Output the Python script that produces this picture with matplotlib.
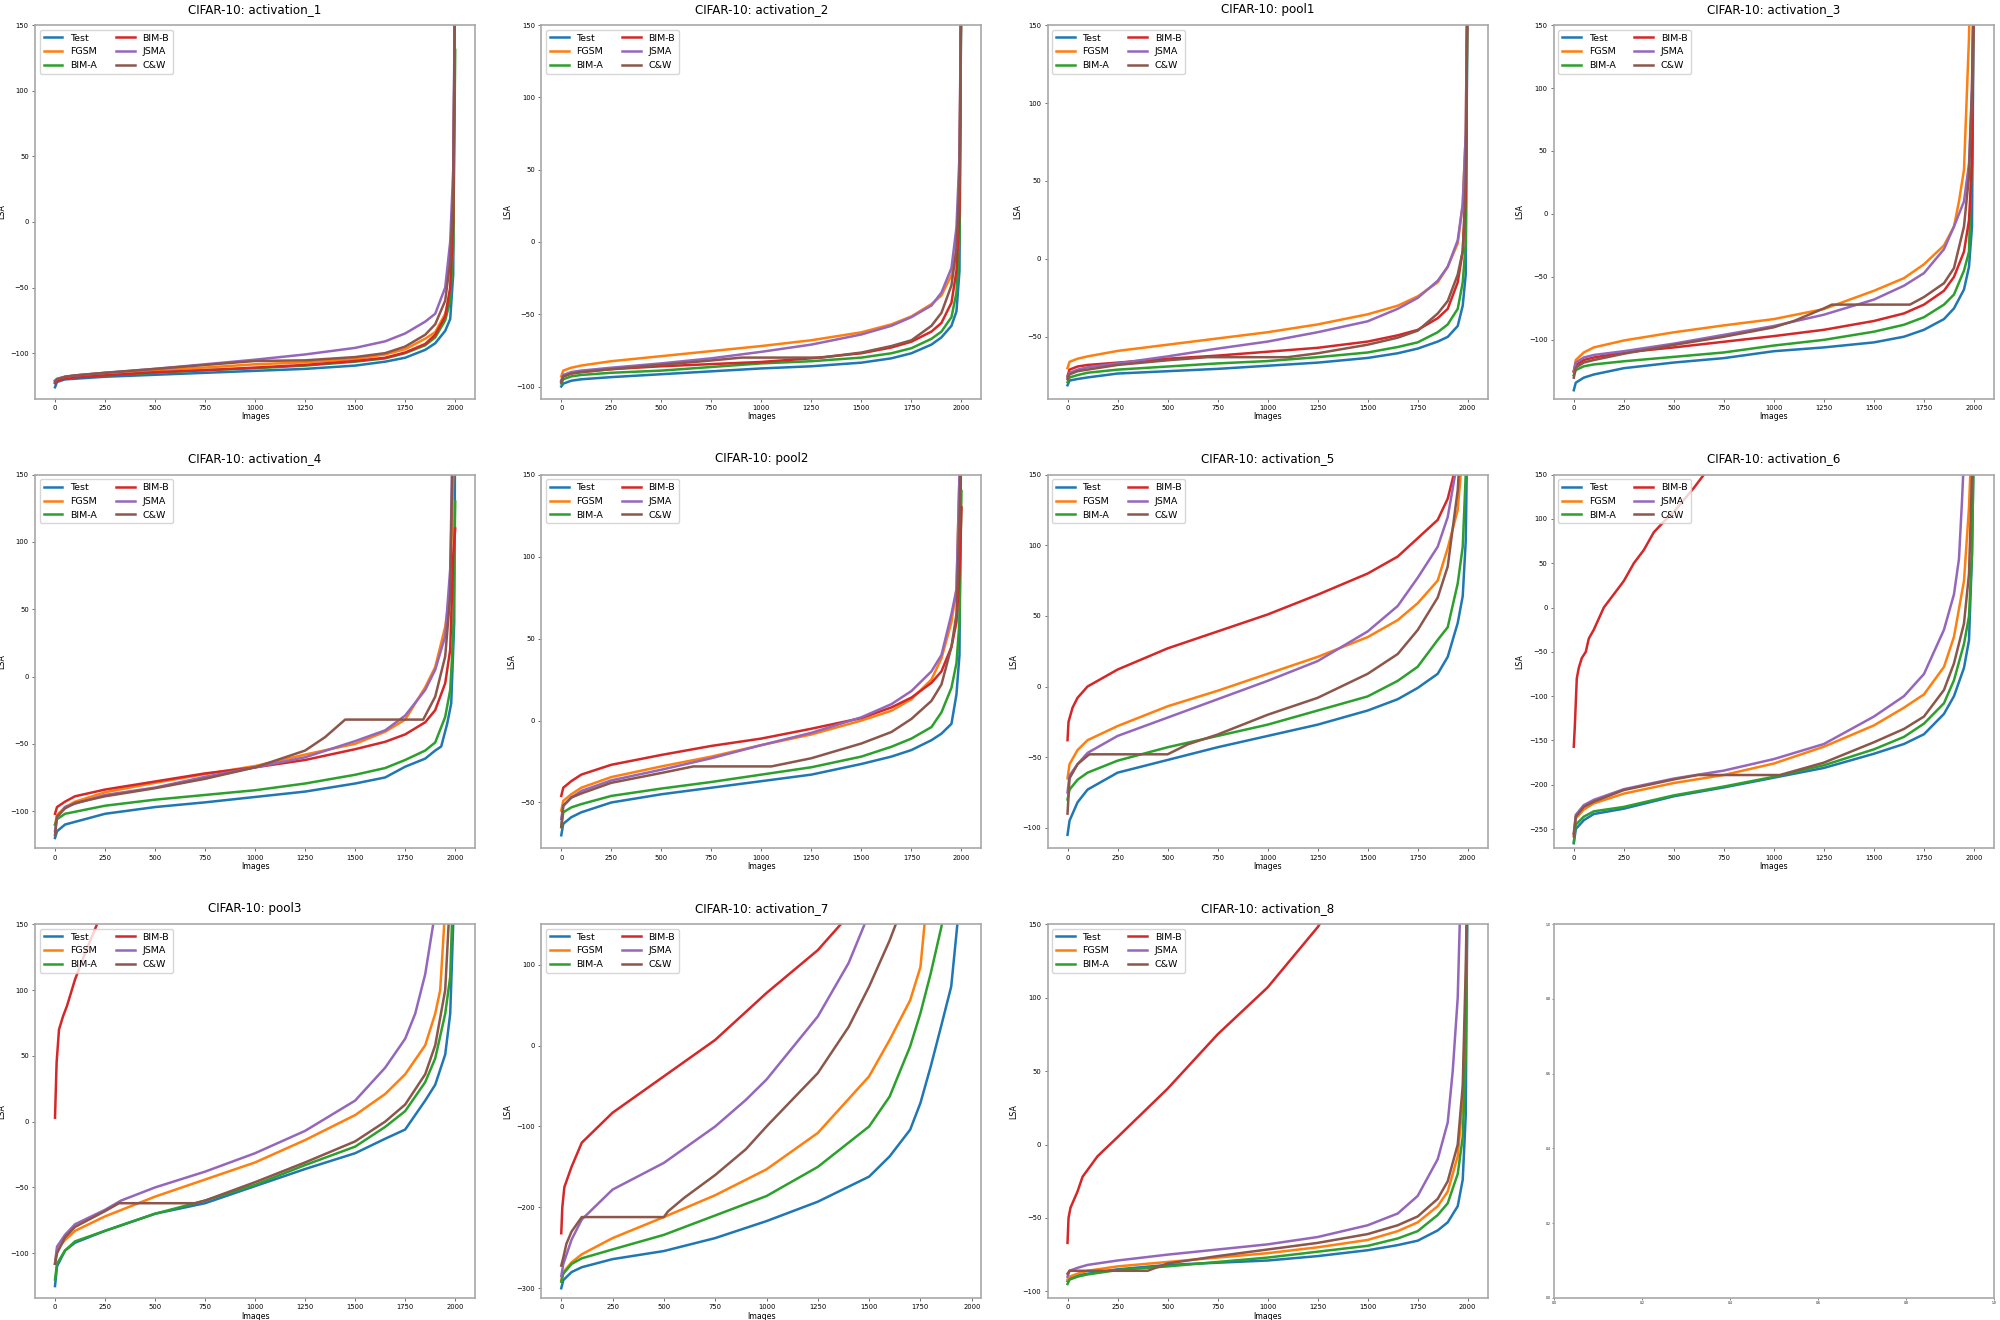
import matplotlib
matplotlib.use("Agg")
import matplotlib.pyplot as plt

# ---------------- data ----------------
SERIES = ["Test", "FGSM", "BIM-A", "BIM-B", "JSMA", "C&W"]
COLORS = ["#1f77b4", "#ff7f0e", "#2ca02c", "#d62728", "#9467bd", "#8c564b"]
TITLES = ["CIFAR-10: activation_1", "CIFAR-10: activation_2", "CIFAR-10: pool1",
          "CIFAR-10: activation_3", "CIFAR-10: activation_4", "CIFAR-10: pool2",
          "CIFAR-10: activation_5", "CIFAR-10: activation_6", "CIFAR-10: pool3",
          "CIFAR-10: activation_7", "CIFAR-10: activation_8"]
YMIN = [-134.8, -108.5, -89.7, -146.8, -127.7, -78.0, -114.6, -271.8, -134.0, -312.0, -104.5]
YMAX = 150
XTICKS = [0, 250, 500, 750, 1000, 1250, 1500, 1750, 2000]

GRID = [0, 10, 50, 100, 250, 500, 750, 1000, 1250, 1500, 1650, 1750, 1850, 1900, 1950, 1975, 1990, 2000]

# activation_1
A1_TEST = [-126, -122, -120, -119.5, -118, -116.5, -115, -113.5, -112, -109.5, -106.5, -103.5, -97.5, -92.5, -83, -74, -40, 200]
A1_FGSM = [-122, -120, -118, -117, -115, -113, -111, -108.5, -107, -104.5, -101, -97, -89, -84, -70, -55, -10, 200]
A1_BIMA = [-121, -120, -119, -118, -117, -115, -113, -111.5, -109.5, -106.5, -104, -100, -94, -88, -75, -60, -20, 131]
A1_BIMB = [-123, -121, -119.5, -118.5, -117, -114.5, -113, -111, -109, -106, -103.5, -99.5, -93, -86, -72, -50, 0, 200]
A1_JSMA = [-121, -119.5, -118, -117, -115, -112, -108.5, -105, -101, -96, -91, -85, -76, -70, -50, -15, 40, 200]
A1_CW = [-122, -120, -118, -117, -115, -112, -109, -106, -105.5, -103, -100, -95, -86, -78, -60, -30, 20, 200]

# activation_2
A2_TEST = [-100, -98, -96, -95, -93.5, -91.5, -89.5, -87.5, -86, -83.5, -80.5, -77, -71, -66, -58, -48, -20, 200]
A2_FGSM = [-93, -89, -87, -85.5, -82.5, -79, -75.5, -72, -68, -62.5, -57, -51.5, -43, -37, -23, -5, 50, 200]
A2_BIMA = [-98, -95, -93, -92, -90.5, -89, -86.5, -84, -82.5, -80, -77, -73.5, -67, -62, -52, -35, 0, 200]
A2_BIMB = [-96, -93, -91, -90, -88, -86, -84.5, -83, -80.5, -77, -73, -69, -62, -56, -42, -20, 20, 200]
A2_JSMA = [-96, -92, -90, -89, -87, -84, -80.5, -76, -71, -64, -58, -52, -44, -35, -18, 10, 60, 200]
A2_CW_X = [0, 10, 50, 100, 250, 500, 750, 900, 1300, 1500, 1650, 1750, 1850, 1900, 1950, 1975, 1990, 2000]
A2_CW = [-97, -93, -91, -90, -88, -85, -82, -80, -80, -76.5, -72, -68, -58, -49, -30, -5, 40, 200]

# pool1
P1_TEST = [-81, -78, -77, -76, -73.5, -72, -70.5, -68.5, -66.5, -63.5, -60.5, -57.5, -53, -50, -43, -30, -10, 200]
P1_FGSM = [-70, -66, -64, -62.5, -59, -55, -51, -47, -42, -35.5, -30, -24, -15, -5, 10, 35, 80, 200]
P1_BIMA = [-79, -76, -74.5, -73, -71, -69, -67, -65.5, -63, -60, -56.5, -53.5, -47, -42, -32, -15, 10, 200]
P1_BIMB = [-75, -71, -69, -68, -66.5, -64, -62, -59.5, -57, -53, -49, -45.5, -38, -32, -15, 5, 40, 200]
P1_JSMA = [-76, -73, -71, -69.5, -67, -62.5, -57.5, -53, -47, -40, -32, -25, -14, -5, 12, 35, 80, 200]
P1_CW_X = [0, 10, 50, 100, 250, 500, 700, 1100, 1250, 1500, 1650, 1750, 1850, 1900, 1950, 1975, 1990, 2000]
P1_CW = [-77, -74, -72, -71, -68, -65, -63, -63, -60.5, -55, -50.5, -46, -35, -27, -10, 5, 50, 200]

# activation_3
A3_TEST = [-140, -134, -130, -127.5, -122.5, -118, -114.5, -109, -106, -102, -97.5, -92, -83.5, -75, -60, -42, -10, 200]
A3_FGSM_X = [0, 10, 50, 100, 250, 500, 750, 1000, 1250, 1500, 1650, 1750, 1850, 1900, 1925, 1950, 1975, 1990]
A3_FGSM = [-125, -116, -110, -106, -100.5, -94, -88.5, -83.5, -75.5, -61, -51, -40, -25, -10, 10, 35, 140, 250]
A3_BIMA = [-128, -124, -121, -119.5, -117, -113.5, -110, -104.5, -100, -93.5, -88, -82, -72, -64, -45, -30, 50, 200]
A3_BIMB = [-125, -120, -116, -114, -110, -106, -101.5, -97, -92, -85, -79, -72, -61, -50, -30, -5, 40, 200]
A3_JSMA = [-125, -118, -114, -112, -109, -103, -96, -89, -80, -68, -57, -47, -28, -10, 10, 40, 100, 200]
A3_CW_X = [0, 10, 50, 100, 250, 500, 750, 1000, 1100, 1250, 1290, 1680, 1750, 1850, 1900, 1950, 1975, 1990, 2000]
A3_CW = [-130, -122, -118, -116, -111, -104, -97.5, -90, -85, -75, -72, -72, -66, -55, -43, -10, 30, 100, 200]

# activation_4
A4_TEST_X = [0, 10, 50, 100, 250, 500, 750, 1000, 1250, 1500, 1650, 1750, 1850, 1900, 1930, 1960, 1980, 1995, 2000]
A4_TEST = [-120, -115, -110, -108, -102, -97, -93.5, -89.5, -85.5, -79.5, -75, -67, -61, -55, -52, -35, -20, 40, 200]
A4_FGSM = [-110, -103, -97, -93, -86, -79, -72.5, -66.5, -58, -50, -41, -32, -8, 7, 37, 64, 150, 250]
A4_BIMA = [-110, -106, -102, -100.5, -96, -91.5, -88, -84.5, -79.5, -73, -68, -62, -55, -49, -30, -10, 30, 130]
A4_BIMB = [-102, -97, -93, -89, -84, -78, -72, -67.5, -62, -54, -48.5, -43, -34, -25, -5, 20, 90, 110]
A4_JSMA = [-115, -105, -97, -94.5, -88, -82.5, -74.5, -67.5, -60, -48, -40, -29, -10, 5, 30, 80, 200, 250]
A4_CW_X = [0, 10, 50, 100, 250, 500, 750, 1000, 1250, 1350, 1450, 1840, 1900, 1950, 1975, 1990, 2000]
A4_CW = [-118, -104, -98, -94, -89, -83, -76, -67.5, -55, -45, -32, -32, -15, 15, 60, 200, 250]

# pool2
P2_TEST = [-70, -63, -59, -56, -50, -45, -41, -37, -33, -26.5, -22, -18, -12, -8, -2, 16, 40, 200]
P2_FGSM = [-55, -49, -45, -41, -34.5, -28, -22, -15, -8.5, 0, 6, 13, 25, 38, 60, 80, 150, 200]
P2_BIMA = [-65, -56, -53, -51, -46, -41.5, -37.5, -33, -28.5, -22, -16, -11, -4, 5, 20, 35, 60, 140]
P2_BIMB = [-46, -41, -37, -33, -27, -21, -15.5, -11, -5, 1.5, 8, 14, 23, 30, 45, 60, 90, 130]
P2_JSMA = [-60, -52, -47, -43, -36.5, -30, -23, -15, -7.5, 2, 10, 18, 30, 40, 65, 80, 150, 200]
P2_CW_X = [0, 10, 50, 100, 250, 500, 660, 1050, 1250, 1500, 1650, 1750, 1850, 1900, 1950, 1975, 1990, 2000]
P2_CW = [-65, -52, -47, -44.5, -38, -32, -28, -28, -23, -14, -7, 1, 12, 22, 45, 65, 120, 200]

# activation_5
A5_TEST = [-105, -95, -82, -73, -61, -52, -43, -35, -27, -17, -9, -1, 9, 21, 45, 64, 103, 200]
A5_BIMA = [-80, -73, -66, -61, -52.5, -43, -35, -27, -17, -7, 4, 14, 33, 42, 73, 99, 150, 200]
A5_BIMB_X = [0, 5, 25, 50, 100, 250, 500, 750, 1000, 1250, 1500, 1650, 1750, 1850, 1900, 1930, 1950]
A5_BIMB = [-38, -25, -15, -8, 0, 12, 27, 39, 51, 65, 80, 92, 105, 118, 133, 150, 180]
A5_FGSM_X = [0, 10, 50, 100, 250, 500, 750, 1000, 1250, 1500, 1650, 1750, 1850, 1900, 1950, 1965, 1990]
A5_FGSM = [-65, -55, -45, -38, -28, -14, -3, 9, 21, 35, 47, 59, 75, 98, 125, 150, 250]
A5_JSMA_X = [0, 10, 50, 100, 250, 500, 750, 1000, 1250, 1500, 1650, 1750, 1850, 1900, 1937, 1970]
A5_JSMA = [-75, -63, -55, -47, -35, -22, -9, 4, 18, 39, 57, 77, 99, 120, 150, 250]
A5_CW_X = [0, 10, 50, 100, 110, 500, 600, 750, 1000, 1250, 1500, 1650, 1750, 1850, 1900, 1950, 1975]
A5_CW = [-90, -65, -55, -49, -48, -48, -41, -34, -20, -8, 9, 23, 40, 63, 85, 139, 200]

# activation_6
A6_TEST = [-266, -250, -240, -233, -227, -213, -203, -192, -181, -165, -154, -143, -120, -100, -68, -37, 60, 200]
A6_FGSM = [-255, -238, -228, -221, -210, -198, -189, -176, -157, -133, -113, -98, -67, -33, 30, 113, 200, 250]
A6_BIMA = [-265, -245, -236, -230, -225, -212, -202, -191, -178, -160, -146, -131, -108, -82, -41, -10, 60, 200]
A6_BIMB_X = [0, 5, 15, 25, 40, 60, 75, 100, 150, 200, 250, 300, 350, 400, 450, 500, 600, 650, 700]
A6_BIMB = [-157, -135, -80, -68, -57, -50, -35, -25, 0, 15, 30, 50, 65, 85, 97, 108, 135, 150, 165]
A6_JSMA_X = [0, 10, 50, 100, 250, 500, 750, 1000, 1250, 1500, 1650, 1750, 1850, 1900, 1925, 1940, 1950]
A6_JSMA = [-255, -234, -223, -217, -205, -193, -184, -171, -154, -123, -100, -75, -25, 15, 55, 120, 170]
A6_CW_X = [0, 10, 50, 100, 250, 500, 620, 1030, 1250, 1500, 1650, 1750, 1850, 1900, 1950, 1975, 1990, 2000]
A6_CW = [-258, -236, -225, -219, -206, -194, -189, -189, -175, -152, -137, -123, -93, -63, -18, 38, 150, 200]

# pool3
P3_TEST = [-125, -110, -98, -92, -83, -70, -62, -49, -36, -24, -13, -6, 16, 28, 51, 82, 150, 200]
P3_FGSM_X = [0, 10, 50, 100, 250, 500, 750, 1000, 1250, 1500, 1650, 1750, 1850, 1900, 1925, 1945, 1960]
P3_FGSM = [-108, -97, -90, -83, -72, -57, -44, -31, -14, 5, 21, 36, 58, 82, 100, 150, 200]
P3_BIMA = [-120, -108, -98, -91, -83, -70, -60, -48, -33, -19, -4, 8, 30, 48, 82, 110, 180, 250]
P3_BIMB_X = [0, 8, 20, 40, 60, 100, 150, 210, 250]
P3_BIMB = [3, 45, 70, 80, 88, 108, 128, 150, 165]
P3_JSMA_X = [0, 10, 50, 100, 250, 330, 500, 750, 1000, 1250, 1500, 1650, 1750, 1800, 1850, 1890, 1920]
P3_JSMA = [-108, -95, -86, -78, -67, -60, -50, -38, -24, -7, 16, 41, 63, 82, 112, 150, 200]
P3_CW_X = [0, 10, 50, 100, 250, 320, 700, 750, 1000, 1250, 1500, 1650, 1750, 1850, 1900, 1950, 1967, 1985]
P3_CW = [-108, -100, -88, -80, -68, -62, -62, -60, -46, -31, -15, 0, 13, 36, 58, 100, 150, 200]

# activation_7
A7_TEST_X = [0, 10, 50, 100, 250, 500, 750, 1000, 1250, 1500, 1600, 1700, 1750, 1800, 1850, 1900, 1930, 1950]
A7_TEST = [-300, -290, -280, -274, -264, -254, -238, -217, -193, -162, -137, -104, -71, -26, 23, 73, 150, 200]
A7_FGSM_X = [0, 10, 50, 100, 250, 500, 750, 1000, 1250, 1500, 1600, 1700, 1750, 1770, 1800]
A7_FGSM = [-290, -280, -268, -258, -238, -212, -185, -153, -108, -38, 7, 56, 97, 150, 180]
A7_BIMA_X = [0, 10, 50, 100, 250, 500, 750, 1000, 1250, 1500, 1600, 1700, 1750, 1800, 1855, 1880]
A7_BIMA = [-292, -282, -270, -263, -252, -234, -210, -186, -150, -100, -63, -1, 40, 89, 150, 180]
A7_BIMB_X = [0, 5, 15, 50, 100, 250, 500, 750, 1000, 1250, 1362, 1400]
A7_BIMB = [-232, -200, -175, -150, -120, -83, -38, 7, 65, 118, 150, 160]
A7_JSMA_X = [0, 10, 50, 100, 250, 500, 750, 900, 1000, 1250, 1400, 1478, 1500]
A7_JSMA = [-285, -270, -240, -215, -178, -145, -100, -67, -42, 36, 102, 150, 160]
A7_CW_X = [0, 10, 25, 50, 100, 500, 520, 600, 750, 900, 1000, 1250, 1400, 1500, 1600, 1630, 1650]
A7_CW = [-272, -262, -245, -230, -212, -212, -205, -188, -160, -128, -100, -34, 23, 73, 130, 150, 165]

# activation_8
A8_TEST = [-93, -91, -89, -88, -85, -82, -80.5, -79, -76, -72, -68.5, -65.5, -58.5, -53, -42, -24, 20, 200]
A8_FGSM = [-92, -90, -88, -86, -83, -80, -77, -74, -70, -65, -59, -53, -42, -32, -8, 30, 100, 200]
A8_BIMA = [-95, -92, -90, -88.5, -85.5, -83, -80, -77, -73, -69, -64, -59, -48, -40, -20, 5, 60, 200]
A8_BIMB_X = [0, 5, 15, 50, 75, 150, 250, 500, 750, 1000, 1250, 1260]
A8_BIMB = [-67, -50, -43, -32, -22, -8, 5, 38, 75, 107, 148, 150]
A8_JSMA_X = [0, 10, 50, 100, 250, 500, 750, 1000, 1250, 1500, 1650, 1750, 1850, 1900, 1925, 1950, 1960, 1975]
A8_JSMA = [-90, -86, -84, -82, -79, -75, -71.5, -68, -63, -55, -47, -35, -10, 15, 50, 100, 150, 200]
A8_CW_X = [0, 10, 50, 400, 500, 750, 1000, 1250, 1500, 1650, 1750, 1850, 1900, 1950, 1975, 1990, 2000]
A8_CW = [-88, -86, -86, -86, -81, -76, -71.5, -67, -61, -55, -49, -37, -25, 0, 40, 120, 200]

# (x, y) per series, per panel, in SERIES order
PANELS = [
    [(GRID, A1_TEST), (GRID, A1_FGSM), (GRID, A1_BIMA), (GRID, A1_BIMB), (GRID, A1_JSMA), (GRID, A1_CW)],
    [(GRID, A2_TEST), (GRID, A2_FGSM), (GRID, A2_BIMA), (GRID, A2_BIMB), (GRID, A2_JSMA), (A2_CW_X, A2_CW)],
    [(GRID, P1_TEST), (GRID, P1_FGSM), (GRID, P1_BIMA), (GRID, P1_BIMB), (GRID, P1_JSMA), (P1_CW_X, P1_CW)],
    [(GRID, A3_TEST), (A3_FGSM_X, A3_FGSM), (GRID, A3_BIMA), (GRID, A3_BIMB), (GRID, A3_JSMA), (A3_CW_X, A3_CW)],
    [(A4_TEST_X, A4_TEST), (GRID, A4_FGSM), (GRID, A4_BIMA), (GRID, A4_BIMB), (GRID, A4_JSMA), (A4_CW_X, A4_CW)],
    [(GRID, P2_TEST), (GRID, P2_FGSM), (GRID, P2_BIMA), (GRID, P2_BIMB), (GRID, P2_JSMA), (P2_CW_X, P2_CW)],
    [(GRID, A5_TEST), (A5_FGSM_X, A5_FGSM), (GRID, A5_BIMA), (A5_BIMB_X, A5_BIMB), (A5_JSMA_X, A5_JSMA), (A5_CW_X, A5_CW)],
    [(GRID, A6_TEST), (GRID, A6_FGSM), (GRID, A6_BIMA), (A6_BIMB_X, A6_BIMB), (A6_JSMA_X, A6_JSMA), (A6_CW_X, A6_CW)],
    [(GRID, P3_TEST), (P3_FGSM_X, P3_FGSM), (GRID, P3_BIMA), (P3_BIMB_X, P3_BIMB), (P3_JSMA_X, P3_JSMA), (P3_CW_X, P3_CW)],
    [(A7_TEST_X, A7_TEST), (A7_FGSM_X, A7_FGSM), (A7_BIMA_X, A7_BIMA), (A7_BIMB_X, A7_BIMB), (A7_JSMA_X, A7_JSMA), (A7_CW_X, A7_CW)],
    [(GRID, A8_TEST), (GRID, A8_FGSM), (GRID, A8_BIMA), (A8_BIMB_X, A8_BIMB), (A8_JSMA_X, A8_JSMA), (A8_CW_X, A8_CW)],
]

# ---------------- plotting ----------------
plt.rcParams['font.family'] = ['DejaVu Sans']
SPINE = "#a8a8a8"

fig, axes = plt.subplots(3, 4, figsize=(20, 13.2), dpi=100)
fig.subplots_adjust(left=0.0175, right=0.997, top=0.981, bottom=0.0167,
                    wspace=0.15, hspace=0.203)
axs = axes.ravel()

for i, ax in enumerate(axs):
    for s in ax.spines.values():
        s.set_color(SPINE)
        s.set_linewidth(1.2)
    if i >= len(PANELS):
        ax.tick_params(labelsize=2.2, length=1.5, width=0.5, color="#555555", pad=1)
        continue
    for (xs, ys), name, col in zip(PANELS[i], SERIES, COLORS):
        ax.plot(xs, ys, color=col, lw=1.8, label=name)
    ax.set_ylim(YMIN[i], YMAX)
    ax.set_xticks(XTICKS)
    ax.set_title(TITLES[i], fontsize=8.6, pad=9)
    ax.set_xlabel("Images", fontsize=5.7, labelpad=1)
    ax.set_ylabel("LSA", fontsize=5.7, labelpad=3)
    ax.tick_params(labelsize=4.9, length=2.5, width=0.6, color="#555555", pad=2)
    ax.legend(loc="upper left", ncol=2, fontsize=6.8, borderaxespad=0.5)

fig.savefig("out.png", dpi=100)
